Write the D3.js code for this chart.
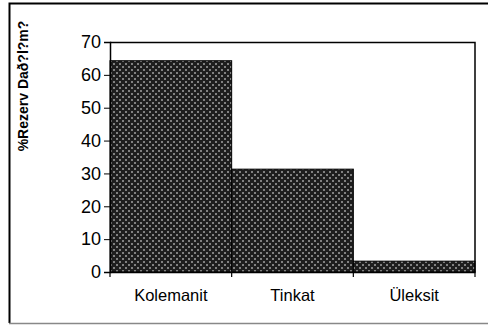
<!DOCTYPE html>
<html>
<head>
<meta charset="utf-8">
<script src="https://cdn.jsdelivr.net/npm/d3@7"></script>
<style>
  body { margin: 0; background: #fff; }
  svg { display: block; }
  text { font-family: "Liberation Sans", Arial, sans-serif; fill: #000; }
  .label { font-size: 14px; font-weight: bold; }
</style>
</head>
<body>
<svg id="chart"></svg>
<script>
const categories = ["Kolemanit", "Tinkat", "Üleksit"];
const values = [64.3, 31.3, 3.3];
const yTicks = [0, 10, 20, 30, 40, 50, 60, 70];
const yTitle = "%Rezerv Dað?l?m?";

const W = 488, H = 325;
const svg = d3.select("#chart").attr("width", W).attr("height", H);

// hatch pattern like the old excel fill
const defs = svg.append("defs");
const pat = defs.append("pattern")
  .attr("id", "hatch")
  .attr("width", 6).attr("height", 6)
  .attr("patternUnits", "userSpaceOnUse");
pat.append("rect").attr("width", 6).attr("height", 6).attr("fill", "#1e1e1e");
pat.append("path")
  .attr("d", "M0,0L2,2M2,0L0,2M3,3L5,5M5,3L3,5")
  .attr("stroke", "#9a9a9a").attr("stroke-width", 0.8);

// outer frame
svg.append("path")
  .attr("d", `M9.5,${H - 2}V3.5H${W}`)
  .attr("fill", "none").attr("stroke", "#000").attr("stroke-width", 2);
svg.append("line")
  .attr("x1", 9).attr("x2", W).attr("y1", H - 1.5).attr("y2", H - 1.5)
  .attr("stroke", "#888").attr("stroke-width", 1.5);

const margin = { left: 110, right: 13, top: 42, bottom: 53 };
const width = W - margin.left - margin.right;
const height = H - margin.top - margin.bottom;

const x = d3.scaleBand().domain(categories).range([0, width]).padding(0);
const y = d3.scaleLinear().domain([0, 70]).range([height, 0]);

const chart = svg.append("g")
  .attr("transform", `translate(${margin.left},${margin.top})`);

chart.selectAll(".bar")
  .data(values)
  .enter()
  .append("rect")
  .attr("class", "bar")
  .attr("x", (d, i) => x(categories[i]))
  .attr("y", (d) => y(d))
  .attr("width", x.bandwidth())
  .attr("height", (d) => height - y(d))
  .attr("fill", "url(#hatch)")
  .attr("stroke", "#000")
  .attr("stroke-width", 1);

// plot frame top + right
chart.append("path")
  .attr("d", `M0,0.5H${width}V${height}`)
  .attr("fill", "none").attr("stroke", "#000").attr("stroke-width", 1.5);

const yAxis = chart.append("g")
  .call(d3.axisLeft(y).tickValues(yTicks).tickSize(6).tickPadding(3));
yAxis.select(".domain").attr("stroke-width", 1.5);
yAxis.selectAll(".tick text").attr("font-size", 18);

const xAxis = chart.append("g")
  .attr("transform", `translate(0,${height})`)
  .call(d3.axisBottom(x).tickSize(0).tickPadding(17));
xAxis.select(".domain").attr("stroke-width", 1.5);
xAxis.selectAll(".tick text").attr("font-size", 16.5);

// category boundary ticks
chart.selectAll(".xtick")
  .data(d3.range(categories.length + 1))
  .enter()
  .append("line")
  .attr("x1", (i) => i * x.step())
  .attr("x2", (i) => i * x.step())
  .attr("y1", height)
  .attr("y2", height + 5)
  .attr("stroke", "#000")
  .attr("stroke-width", 1.2);

svg.append("text")
  .attr("class", "label")
  .attr("transform", `translate(28,${margin.top + 44}) rotate(-90)`)
  .attr("text-anchor", "middle")
  .text(yTitle);
</script>
</body>
</html>
